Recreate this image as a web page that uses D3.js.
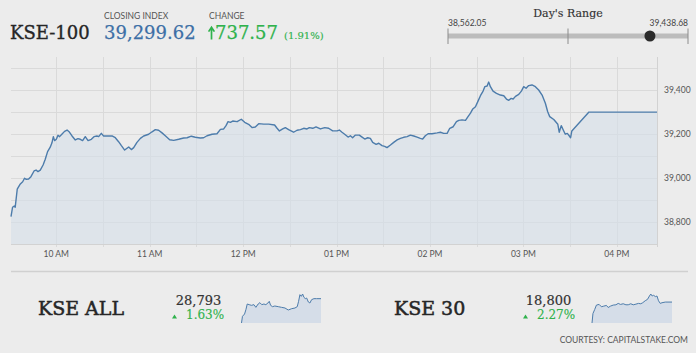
<!DOCTYPE html>
<html>
<head>
<meta charset="utf-8">
<script src="https://cdn.jsdelivr.net/npm/d3@7"></script>
<style>
  body { margin: 0; background: #ececec; }
  svg { display: block; }
</style>
</head>
<body>
<svg id="chart" width="696" height="353"></svg>
<script>
// Header numbers.
const indexName = "KSE-100";
const closingIndex = "39,299.62";
const changeValue = "737.57";
const changePct = "(1.91%)";
const dayLow = 38562.05;
const dayHigh = 39438.68;
const closeValue = 39299.62;

// Intraday KSE-100, minutes after 09:30 and index value.
const minutes = [0.9, 1.9, 3.0, 3.6, 4.9, 6.9, 8.4, 9.6, 10.7, 12.2, 13.7, 15.7, 17.0, 18.2, 19.7,
  21.5, 22.9, 24.4, 26.1, 27.2, 28.1, 28.9, 30.0, 31.1, 32.1, 33.7, 35.3, 36.9, 38.4, 40.1,
  42.2, 43.9, 45.4, 46.9, 48.6, 50.4, 52.5, 54.2, 56.1, 57.2, 58.9, 60.4, 62.6, 65.8, 67.9,
  70.0, 71.8, 73.9, 75.4, 76.5, 78.2, 79.7, 81.8, 84.0, 86.1, 89.3, 91.5, 93.6, 95.7, 97.9,
  100.0, 102.8, 105.4, 108.6, 111.8, 114.0, 116.7, 119.3, 122.5, 124.6, 126.8, 130.0, 133.2,
  135.4, 137.5, 139.0, 140.3, 141.8, 143.3, 146.1, 148.8, 151.0, 153.5, 155.7, 157.8, 160.0,
  163.2, 166.4, 170.2, 171.8, 173.3, 175.4, 177.1, 179.2, 182.4, 184.6, 186.8, 188.9, 191.0,
  192.5, 194.7, 196.8, 199.6, 202.4, 204.9, 207.5, 210.3, 211.8, 213.5, 215.2, 217.4, 218.9,
  220.3, 222.1, 224.6, 226.4, 228.1, 230.0, 231.7, 233.2, 235.4, 237.1, 239.2, 240.9, 242.4,
  244.6, 246.7, 248.9, 251.0, 253.1, 255.3, 257.4, 259.6, 261.7, 263.8, 265.3, 267.0, 268.8,
  271.3, 274.6, 276.7, 278.8, 281.0, 282.7, 284.9, 287.0, 288.5, 290.6, 292.8, 294.2, 296.0,
  297.5, 299.2, 300.7, 302.4, 304.1, 305.2, 306.7, 307.7, 308.8, 310.5, 312.7, 315.2, 317.4,
  319.1, 320.6, 322.1, 323.4, 324.9, 327.0, 328.7, 330.2, 331.7, 333.4, 335.5, 337.7, 339.8,
  342.0, 344.1, 345.6, 346.9, 349.5, 352.1, 353.0, 354.3, 355.6, 356.9, 358.2, 359.4, 360.3,
  361.1, 372.1, 415.8];
const values = [38824, 38867, 38873, 38867, 38949, 38973, 38983, 38999, 38994, 38995, 39006, 39032, 39036, 39029, 39036,
  39059, 39085, 39120, 39140, 39160, 39188, 39170, 39176, 39194, 39188, 39200, 39212, 39218, 39209, 39191,
  39173, 39179, 39176, 39170, 39188, 39170, 39176, 39188, 39191, 39188, 39203, 39191, 39191, 39191, 39183,
  39165, 39147, 39127, 39135, 39141, 39129, 39138, 39162, 39180, 39191, 39199, 39210, 39220, 39217, 39205,
  39192, 39174, 39171, 39176, 39182, 39183, 39190, 39185, 39182, 39183, 39192, 39199, 39201,
  39221, 39223, 39238, 39256, 39253, 39259, 39256, 39267, 39253, 39244, 39229, 39232, 39247,
  39245, 39245, 39241, 39226, 39214, 39223, 39229, 39220, 39208, 39217, 39220, 39226, 39223,
  39229, 39226, 39232, 39223, 39229, 39226, 39214, 39214, 39218, 39208, 39199, 39186, 39192,
  39183, 39195, 39195, 39186, 39177, 39183, 39180, 39162, 39153, 39158, 39147, 39144, 39138,
  39150, 39162, 39173, 39180, 39185, 39188, 39195, 39191, 39186, 39180, 39177, 39192, 39201,
  39201, 39205, 39208, 39203, 39203, 39226, 39233, 39256, 39262, 39264, 39262, 39277, 39295,
  39314, 39324, 39347, 39374, 39395, 39415, 39418, 39436, 39415, 39395, 39385, 39377, 39374,
  39359, 39353, 39362, 39359, 39371, 39380, 39395, 39415, 39408, 39420, 39423, 39415, 39400,
  39377, 39340, 39301, 39279, 39266, 39244, 39208, 39238, 39218, 39199, 39203, 39192, 39183,
  39214, 39299.62, 39299.62];

const yTicks = [38800, 39000, 39200, 39400];
const yGrid = [38800, 38900, 39000, 39100, 39200, 39300, 39400, 39500];

// Small indices at the bottom.
const allName = "KSE ALL", allValue = "28,793", allPct = "1.63%";
const allMinutes = [0, 5, 16, 23, 30, 40, 52, 65, 75, 87, 96, 106, 117, 127, 138, 145, 152, 162, 174,
  192, 209, 227, 244, 262, 279, 291, 298, 305, 312, 319, 326, 333, 340, 349, 357, 366, 378, 392, 415];
const allValues = [28428, 28528, 28563, 28628, 28713, 28703, 28693, 28703, 28663, 28713, 28733, 28703,
  28713, 28703, 28728, 28753, 28693, 28673, 28683, 28673, 28663, 28653, 28623, 28643, 28653, 28673,
  28753, 28853, 28828, 28863, 28813, 28793, 28803, 28743, 28728, 28778, 28793, 28793, 28793];

const k30Name = "KSE 30", k30Value = "18,800", k30Pct = "2.27%";
const k30Minutes = [0, 5, 14, 23, 37, 49, 61, 75, 84, 96, 110, 124, 136, 148, 162, 176, 188, 201, 214,
  228, 241, 253, 263, 276, 288, 298, 305, 312, 319, 330, 337, 345, 354, 363, 380, 415];
const k30Values = [18515, 18644, 18699, 18759, 18768, 18736, 18745, 18754, 18726, 18745, 18759, 18763,
  18782, 18768, 18777, 18763, 18763, 18777, 18763, 18772, 18782, 18777, 18791, 18818, 18837, 18883,
  18910, 18883, 18892, 18874, 18883, 18818, 18782, 18791, 18800, 18800];

const open = new Date(2019, 0, 1, 9, 30);
const toTime = m => new Date(open.getTime() + m * 60000);

const svg = d3.select("#chart");
const serif = "'DejaVu Serif', serif";
const sans = "Lato, 'Open Sans', sans-serif";
const green = "#2fb24c";
const blue = "#3c6fa6";

// Serif text with a thin outline so it reads as heavy as the original face.
function serifText(xp, yp, size, color, txt, weight) {
  return svg.append("text").attr("x", xp).attr("y", yp)
    .attr("font-family", serif).attr("font-size", size).attr("fill", color)
    .attr("stroke", color).attr("stroke-width", weight || 0)
    .text(txt);
}

// ---------- Header ----------
serifText(10, 39, 18, "#262626", indexName, 0.35);
svg.append("text").attr("x", 104).attr("y", 19)
  .attr("font-family", sans).attr("font-size", 8.5).attr("fill", "#555")
  .text("CLOSING INDEX");
serifText(104, 39, 18, blue, closingIndex, 0.25);
svg.append("text").attr("x", 209).attr("y", 19)
  .attr("font-family", sans).attr("font-size", 8.5).attr("fill", "#555")
  .text("CHANGE");
// Up arrow.
svg.append("path")
  .attr("d", "M211.5,39.5 V28.5 M208.6,31.6 L211.5,27.2 L214.4,31.6")
  .attr("fill", "none").attr("stroke", green).attr("stroke-width", 1.7);
serifText(215, 39, 18, green, changeValue, 0.25);
serifText(284, 39, 10, green, changePct, 0.15);

// Day's range slider.
const rangeX = d3.scaleLinear().domain([dayLow, dayHigh]).range([448, 688]);
serifText(568, 16.5, 11, "#333", "Day's Range", 0.15).attr("text-anchor", "middle");
svg.append("text").attr("x", 448).attr("y", 26)
  .attr("font-family", sans).attr("font-size", 8.5).attr("fill", "#444")
  .text(d3.format(",.2f")(dayLow));
svg.append("text").attr("x", 688).attr("y", 26).attr("text-anchor", "end")
  .attr("font-family", sans).attr("font-size", 8.5).attr("fill", "#444")
  .text(d3.format(",.2f")(dayHigh));
svg.append("rect").attr("x", rangeX(dayLow)).attr("y", 33.5)
  .attr("width", rangeX(dayHigh) - rangeX(dayLow)).attr("height", 5)
  .attr("fill", "#bcbcbc");
[dayLow, (dayLow + dayHigh) / 2, dayHigh].forEach(v => {
  svg.append("line").attr("x1", rangeX(v)).attr("x2", rangeX(v))
    .attr("y1", 28.5).attr("y2", 44).attr("stroke", "#8c8c8c").attr("stroke-width", 1);
});
svg.append("circle").attr("cx", rangeX(closeValue)).attr("cy", 36).attr("r", 5.5)
  .attr("fill", "#2b2b2b");

// ---------- Main chart ----------
const plot = { left: 11, right: 657, top: 57, bottom: 244 };
const data = minutes.map((m, i) => ({ t: toTime(m), v: values[i] }));

const x = d3.scaleTime()
  .domain([data[0].t, data[data.length - 1].t])
  .range([plot.left, plot.right]);
const y = d3.scaleLinear()
  .domain([38700, 39550])
  .range([plot.bottom, plot.top]);

const grid = svg.append("g");
// Horizontal grid.
grid.selectAll(".hg").data(yGrid).enter().append("line")
  .attr("x1", plot.left).attr("x2", plot.right)
  .attr("y1", d => Math.round(y(d)) + 0.5).attr("y2", d => Math.round(y(d)) + 0.5)
  .attr("stroke", "#dadada");
// Vertical grid every half hour.
const halfHours = d3.timeMinute.every(30).range(x.domain()[0], x.domain()[1]);
grid.selectAll(".vg").data(halfHours).enter().append("line")
  .attr("x1", d => Math.round(x(d)) + 0.5).attr("x2", d => Math.round(x(d)) + 0.5)
  .attr("y1", plot.top).attr("y2", plot.bottom + 3)
  .attr("stroke", "#dadada");
// Bottom line and right axis line.
svg.append("line").attr("x1", plot.left).attr("x2", plot.right)
  .attr("y1", plot.bottom + 0.5).attr("y2", plot.bottom + 0.5).attr("stroke", "#d2d2d2");
svg.append("line").attr("x1", plot.right + 0.5).attr("x2", plot.right + 0.5)
  .attr("y1", plot.top).attr("y2", plot.bottom + 3).attr("stroke", "#d2d2d2");

// Area and line.
const area = d3.area().x(d => x(d.t)).y0(plot.bottom).y1(d => y(d.v));
const line = d3.line().x(d => x(d.t)).y(d => y(d.v));
svg.append("path").datum(data).attr("d", area)
  .attr("fill", "#d5dfea").attr("fill-opacity", 0.6);
svg.append("path").datum(data).attr("d", line)
  .attr("fill", "none").attr("stroke", "#4d7cab").attr("stroke-width", 1.4)
  .attr("stroke-linejoin", "round");

// X axis labels.
const hours = d3.timeHour.every(1).range(x.domain()[0], x.domain()[1]);
svg.append("g").selectAll("text").data(hours).enter().append("text")
  .attr("x", d => x(d)).attr("y", 257).attr("text-anchor", "middle")
  .attr("font-family", sans).attr("font-size", 8.5).attr("fill", "#555")
  .text(d => d3.timeFormat("%I %p")(d));
// Y axis labels on the right.
svg.append("g").selectAll("text").data(yTicks).enter().append("text")
  .attr("x", 664).attr("y", d => y(d)).attr("dy", "0.35em")
  .attr("font-family", sans).attr("font-size", 8.5).attr("fill", "#555")
  .text(d => d3.format(",")(d));

// Separator.
svg.append("line").attr("x1", 11).attr("x2", 688).attr("y1", 271.5).attr("y2", 271.5)
  .attr("stroke", "#d0d0d0").attr("stroke-width", 1.5);

// ---------- Bottom indices ----------
function drawMini(cfg) {
  serifText(cfg.nameX, 315, 19, "#262626", cfg.name, 0.5);
  serifText(cfg.valX, 305, 13, "#333", cfg.value, 0.2).attr("text-anchor", "middle");
  const tx = cfg.triX;
  svg.append("path")
    .attr("d", `M${tx},318.5 L${tx + 5},318.5 L${tx + 2.5},314.5 Z`)
    .attr("fill", green);
  serifText(tx + 14, 319, 12, green, cfg.pct, 0.15);
  const pts = cfg.mins.map((m, i) => ({ t: toTime(m), v: cfg.vals[i] }));
  const sx = d3.scaleTime().domain(d3.extent(pts, d => d.t)).range([cfg.x0, cfg.x1]);
  const sy = d3.scaleLinear().domain(d3.extent(pts, d => d.v)).range([323, 294]);
  svg.append("path").datum(pts)
    .attr("d", d3.area().x(d => sx(d.t)).y0(323).y1(d => sy(d.v)))
    .attr("fill", "#d5dde8");
  svg.append("path").datum(pts)
    .attr("d", d3.line().x(d => sx(d.t)).y(d => sy(d.v)))
    .attr("fill", "none").attr("stroke", "#4d7cab").attr("stroke-width", 1);
}
drawMini({ name: allName, value: allValue, pct: allPct, mins: allMinutes, vals: allValues,
  nameX: 38, valX: 198.5, triX: 172, x0: 241.5, x1: 321 });
drawMini({ name: k30Name, value: k30Value, pct: k30Pct, mins: k30Minutes, vals: k30Values,
  nameX: 394, valX: 548.5, triX: 523, x0: 592, x1: 672 });

svg.append("text").attr("x", 688).attr("y", 343).attr("text-anchor", "end")
  .attr("font-family", sans).attr("font-size", 8.5).attr("fill", "#555")
  .text("COURTESY: CAPITALSTAKE.COM");
</script>
</body>
</html>
